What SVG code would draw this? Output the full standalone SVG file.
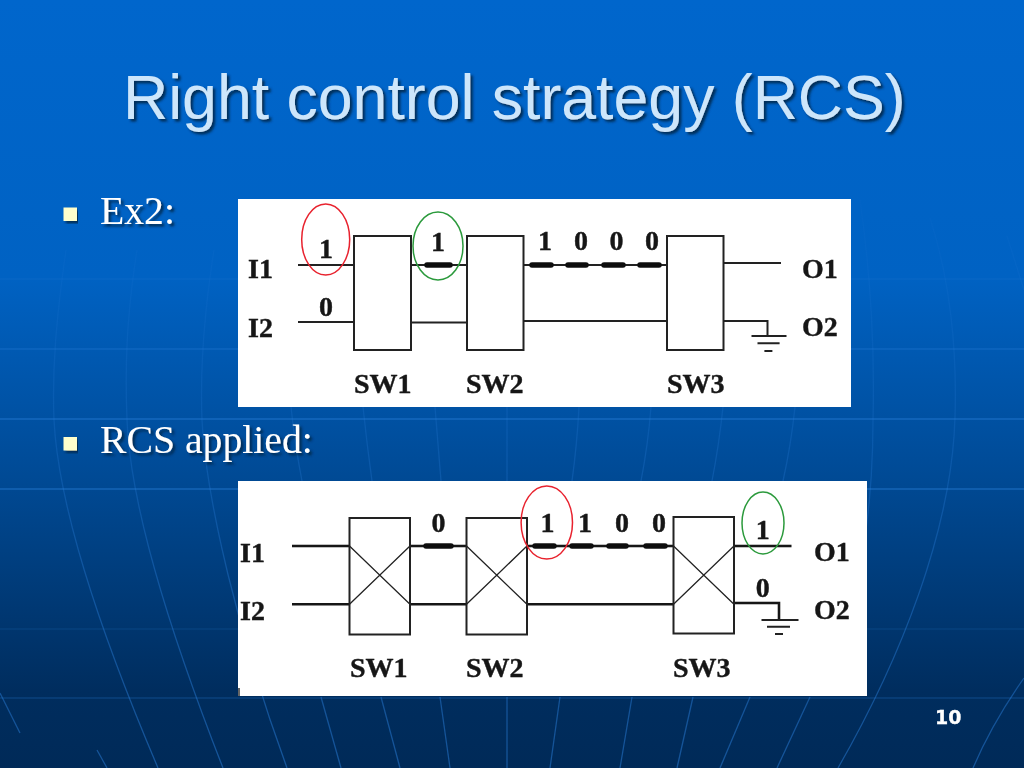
<svg xmlns="http://www.w3.org/2000/svg" width="1024" height="768" viewBox="0 0 1024 768">
<style>
.hl{stroke:#2a80dc;stroke-width:1.3;fill:none}
.mer{stroke:url(#fade);stroke-width:1.3;fill:none}
.title{font:62.600px "Liberation Sans",Arial,sans-serif;fill:#cde6fb}
.body{font:39.700px "Liberation Serif","Times New Roman",serif;fill:#fff}
.num{font:bold 19px "DejaVu Sans",Verdana,sans-serif;fill:#fff;stroke:#fff;stroke-width:0.3}
.lb{font:bold 28px "Liberation Serif","Times New Roman",serif;fill:#151515;stroke:#151515;stroke-width:0.4}
.mid{text-anchor:middle}
.box{fill:#fff;stroke:#222;stroke-width:2}
.w{stroke:#222;stroke-width:2;fill:none}
.w2{stroke:#151515;stroke-width:2.6;fill:none}
.x{stroke:#222;stroke-width:1.3;fill:none}
.bit{stroke:#111;stroke-width:5.5;stroke-linecap:round;fill:none}
.red{fill:none;stroke:#e8222e;stroke-width:1.5}
.grn{fill:none;stroke:#2c9a3c;stroke-width:1.5}
</style>
<defs>
<linearGradient id="bg" x1="0" y1="0" x2="0" y2="1">
<stop offset="0" stop-color="#0066cc"/>
<stop offset="0.36" stop-color="#0062c3"/>
<stop offset="0.62" stop-color="#004a95"/>
<stop offset="0.9" stop-color="#002d5e"/>
<stop offset="1" stop-color="#002a58"/>
</linearGradient>
<linearGradient id="fade" gradientUnits="userSpaceOnUse" x1="0" y1="200" x2="0" y2="768">
<stop offset="0" stop-color="#2a80dc" stop-opacity="0.05"/>
<stop offset="0.4" stop-color="#2a80dc" stop-opacity="0.22"/>
<stop offset="0.7" stop-color="#2a80dc" stop-opacity="0.4"/>
<stop offset="1" stop-color="#2a80dc" stop-opacity="0.5"/>
</linearGradient>
<filter id="sh" x="-5%" y="-20%" width="110%" height="140%"><feDropShadow dx="2.5" dy="2.5" stdDeviation="1" flood-color="#00264d" flood-opacity="0.9"/></filter>
<filter id="soft" x="-2%" y="-2%" width="104%" height="104%"><feGaussianBlur stdDeviation="0.45"/></filter>
</defs>
<rect id="background" width="1024" height="768" fill="url(#bg)"/>
<g id="grid">
<g opacity="0.5">
<path class="hl" d="M0 279H1024" opacity="0.35"/><path class="hl" d="M0 349H1024" opacity="0.7"/><path class="hl" d="M0 419H1024"/><path class="hl" d="M0 489H1024"/><path class="hl" d="M0 629H1024" opacity="0.3"/><path class="hl" d="M0 698H1024" opacity="0.5"/>
</g>
<g>
<path class="mer" d="M66 250C56 320 52 370 54 420C58 500 95 620 158 768"/>
<path class="mer" d="M137 250C126 320 125 370 127 420C130 500 165 620 223 768"/>
<path class="mer" d="M214 250C203 320 200 370 202 420C206 500 240 640 287 768"/>
<path class="mer" d="M321 697L341 768"/><path class="mer" d="M381 697L400 768"/><path class="mer" d="M440 697L450 768"/><path class="mer" d="M507 697V768"/><path class="mer" d="M560 697L550 768"/><path class="mer" d="M632 697L620 768"/><path class="mer" d="M693 697L677 768"/><path class="mer" d="M750 697L720 768"/><path class="mer" d="M810 697L777 768"/>
<path class="mer" d="M860 200C870 270 875 340 873 420C873 460 870 500 866 530"/>
<path class="mer" d="M930 218C950 280 957 350 955 417C952 530 900 660 838 768"/>
<path class="mer" d="M1007 236L1024 290"/><path class="mer" d="M1024 678C1005 705 985 740 973 768"/>
<path class="mer" d="M0 693L20 733"/><path class="mer" d="M97 750L107 768"/>
<path class="mer" d="M435 407Q438 445 441 481"/><path class="mer" d="M363 407Q367 445 372 481"/><path class="mer" d="M291 407Q295 445 302 481"/><path class="mer" d="M507 407V481"/><path class="mer" d="M579 407Q577 445 572 481"/><path class="mer" d="M651 407Q648 445 641 481"/><path class="mer" d="M723 407Q719 445 712 481"/><path class="mer" d="M795 407Q791 445 783 481"/>
</g>
</g>
<text id="title" class="title" x="123" y="119" filter="url(#sh)">Right control strategy (RCS)</text>
<g id="bullet1"><rect x="63.500" y="207.500" width="13.500" height="13.500" fill="#ffffcc" filter="url(#sh)"/><text class="body" x="100" y="224" filter="url(#sh)">Ex2:</text></g>
<g id="bullet2"><rect x="63.500" y="437" width="13.500" height="13.500" fill="#ffffcc" filter="url(#sh)"/><text class="body" x="100" y="453" filter="url(#sh)">RCS applied:</text></g>
<text id="page-number" class="num" x="935" y="724">10</text>

<g id="figure1">
<rect x="238" y="199" width="613" height="208" fill="#fff"/>
<g filter="url(#soft)">
<g id="connectors1">
<path class="w" d="M298 265H354M411 265H467M523 265H667M723 263H781"/>
<path class="w" d="M298 322H354M411 322.500H467M523 321H667M723 321H767.500V336"/>
<path class="w" d="M751.500 336H786.500M757.500 343.300H779.600"/><path class="w" d="M764.400 351H772.400" stroke-width="3"/>
<path class="bit" d="M427 265H450M532 265H551M568 265H586M604 265H623M640 265H659"/>
</g>
<g id="f1-sw1"><rect class="box" x="354" y="236" width="57" height="114"/><text class="lb" x="354" y="393">SW1</text></g>
<g id="f1-sw2"><rect class="box" x="467" y="236" width="56.500" height="114"/><text class="lb" x="466" y="393">SW2</text></g>
<g id="f1-sw3"><rect class="box" x="667" y="236" width="56.500" height="114"/><text class="lb" x="667" y="393">SW3</text></g>
<g id="f1-io">
<text class="lb" x="248" y="278">I1</text><text class="lb" x="248" y="337">I2</text>
<text class="lb" x="802" y="278">O1</text><text class="lb" x="802" y="336">O2</text>
</g>
<g id="f1-bits">
<text class="lb mid" x="326" y="258">1</text><text class="lb mid" x="326" y="316">0</text><text class="lb mid" x="438" y="251">1</text>
<text class="lb mid" x="545" y="250">1</text><text class="lb mid" x="581" y="250">0</text><text class="lb mid" x="616.500" y="250">0</text><text class="lb mid" x="652" y="250">0</text>
</g>
<ellipse id="f1-red" class="red" cx="325.700" cy="239.500" rx="24" ry="35.500"/>
<ellipse id="f1-green" class="grn" cx="438" cy="246" rx="25" ry="34"/>
</g>
</g>

<g id="figure2">
<rect x="238" y="481" width="629" height="215" fill="#fff"/>
<rect x="238" y="688" width="2" height="8" fill="#666"/>
<g filter="url(#soft)">
<g id="connectors2">
<path class="w2" d="M292 546H349M410 546H467M527 546H673M734 546H791.500"/>
<path class="w2" d="M292 604.300H349M410 604.300H467M527 604.300H673M734 603H779V620"/>
<path class="w" d="M761.500 620H798.500M767 626.700H790"/><path class="w" d="M775 634H783" stroke-width="3"/>
<path class="bit" d="M426 546H451M535 546H554M572 546H591M609 546H626M646 546H665"/>
</g>
<g id="f2-sw1"><rect class="box" x="349.500" y="518" width="60.500" height="116.500"/><path class="x" d="M349.500 546L410 604.300M349.500 604.300L410 546"/><text class="lb" x="350" y="677">SW1</text></g>
<g id="f2-sw2"><rect class="box" x="466.500" y="518" width="60.500" height="116.500"/><path class="x" d="M466.500 546L527 604.300M466.500 604.300L527 546"/><text class="lb" x="466" y="677">SW2</text></g>
<g id="f2-sw3"><rect class="box" x="673.500" y="517" width="60.500" height="116.500"/><path class="x" d="M673.500 546L734 604.300M673.500 604.300L734 546"/><text class="lb" x="673" y="677">SW3</text></g>
<g id="f2-io">
<text class="lb" x="240" y="561.500">I1</text><text class="lb" x="240" y="620">I2</text>
<text class="lb" x="814" y="561">O1</text><text class="lb" x="814" y="619">O2</text>
</g>
<g id="f2-bits">
<text class="lb mid" x="438.500" y="531.500">0</text><text class="lb mid" x="547.500" y="531.500">1</text><text class="lb mid" x="585" y="531.500">1</text><text class="lb mid" x="622" y="531.500">0</text><text class="lb mid" x="659" y="531.500">0</text>
<text class="lb mid" x="762.700" y="539">1</text><text class="lb mid" x="762.700" y="596.700">0</text>
</g>
<ellipse id="f2-red" class="red" cx="546.800" cy="522.500" rx="25.700" ry="36.500"/>
<ellipse id="f2-green" class="grn" cx="763" cy="523" rx="21" ry="31"/>
</g>
</g>
</svg>
